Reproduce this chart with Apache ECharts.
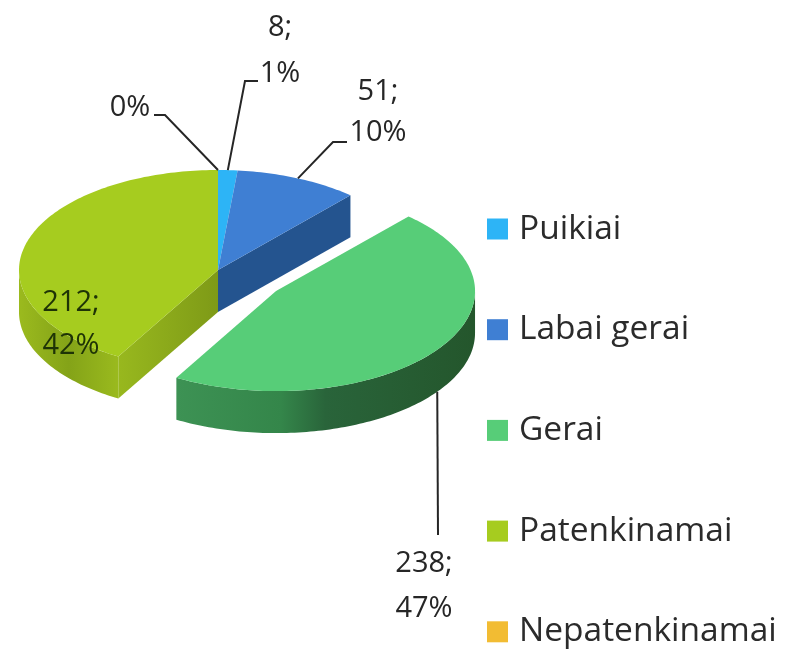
<!DOCTYPE html>
<html lang="en">
<head>
<meta charset="UTF-8">
<style>
    html, body { height: 100%; margin: 0; background: #fff; }
</style>
</head>
<body>
<div id="chart" style="width:794px;height:649px;"></div>
<script src="https://cdn.jsdelivr.net/npm/echarts@6/dist/echarts.min.js"></script>
<script>
    var categories = ['Puikiai', 'Labai gerai', 'Gerai', 'Patenkinamai', 'Nepatenkinamai'];
    var counts = [8, 51, 238, 212, 0];
    var percents = [1, 10, 47, 42, 0];
    var colors = ['#2DB4F6', '#3F7FD3', '#57CD78', '#A6CC1F', '#F2BC33'];

    // fake 3d pie: a flattened ellipse with a side wall
    var cx = 218, cy = 270, rx = 199, ry = 100, depth = 42;
    var explodeIndex = 2, explode = 0.36;
    var font = '29px "Open Sans"';
    var textColor = '#262626';

    // elbow of each leader line and where its label sits (null = label on the slice)
    var leaders = [
        { elbow: [[245, 81], [258, 81]], label: [280, 51], leading: 46 },
        { elbow: [[333, 142], [347, 142]], label: [378, 112], leading: 41 },
        { elbow: [[438, 535]], label: [424, 586], leading: 45, wall: true },
        { elbow: null, label: [71, 324], leading: 43 },
        { elbow: [[165, 115], [154, 115]], label: [130, 108], leading: 40 }
    ];

    var sideFills = [
        '#1F7FB0',
        '#24548F',
        { type: 'linear', x: 0, y: 0, x2: 1, y2: 0, colorStops: [
            { offset: 0, color: '#3D9254' }, { offset: 0.35, color: '#34864A' },
            { offset: 0.5, color: '#29643A' }, { offset: 1, color: '#24562C' }] },
        { type: 'linear', x: 0, y: 0, x2: 1, y2: 0, colorStops: [
            { offset: 0, color: '#9BBA1E' }, { offset: 0.5, color: '#84A318' }, { offset: 1, color: '#9ABA1E' }] },
        '#B08820'
    ];
    var cutFills = ['#1F7FB0', '#24548F', '#3D9254',
        { type: 'linear', x: 0, y: 0, x2: 1, y2: 0, colorStops: [
            { offset: 0, color: '#98B81E' }, { offset: 1, color: '#7E9A17' }] },
        '#B08820'];

    var total = counts.reduce(function (a, b) { return a + b; }, 0);

    function rad(frac) { return frac * 2 * Math.PI; }

    // point on the ellipse, angle measured clockwise from the top
    function pt(c, a) {
        return [c[0] + rx * Math.sin(a), c[1] - ry * Math.cos(a)];
    }

    function arc(c, a0, a1) {
        var pts = [];
        var n = Math.max(2, Math.ceil(Math.abs(a1 - a0) / 0.02));
        for (var i = 0; i <= n; i++) {
            pts.push(pt(c, a0 + (a1 - a0) * i / n));
        }
        return pts;
    }

    function down(p) { return [p[0], p[1] + depth]; }

    function slice(index) {
        var before = 0;
        for (var i = 0; i < index; i++) before += counts[i];
        var a0 = rad(before / total), a1 = rad((before + counts[index]) / total);
        var mid = (a0 + a1) / 2;
        var c = [cx, cy];
        if (index === explodeIndex) {
            c = [cx + rx * explode * Math.sin(mid), cy - ry * explode * Math.cos(mid)];
        }
        return { a0: a0, a1: a1, mid: mid, c: c };
    }

    function poly(points, fill) {
        return { type: 'polygon', shape: { points: points }, style: { fill: fill } };
    }

    function renderSlice(params, api) {
        var i = params.seriesIndex;
        var s = slice(i);
        var kids = [];

        if (counts[i] > 0) {
            // cut faces next to the gap
            var cBottom = down(s.c);
            if (i === 1) {
                var e1 = pt(s.c, s.a1);
                kids.push(poly([s.c, e1, down(e1), cBottom], cutFills[i]));
            }
            if (i === 3) {
                var e0 = pt(s.c, s.a0);
                kids.push(poly([s.c, e0, down(e0), cBottom], cutFills[i]));
            }
            // outer wall: the part of the rim facing the viewer
            var w0 = Math.max(s.a0, Math.PI / 2), w1 = Math.min(s.a1, Math.PI * 1.5);
            if (w1 > w0) {
                var rim = arc(s.c, w0, w1);
                kids.push(poly(rim.concat(rim.slice().reverse().map(down)), sideFills[i]));
            }
            // top face
            kids.push(poly([s.c].concat(arc(s.c, s.a0, s.a1)), colors[i]));
        }

        var leader = leaders[i];
        if (leader.elbow) {
            var anchor = pt(s.c, s.mid);
            if (leader.wall) anchor = down(anchor);
            kids.push({
                type: 'polyline',
                shape: { points: [anchor].concat(leader.elbow) },
                style: { fill: null, stroke: '#262626', lineWidth: 2 }
            });
        }
        var text = counts[i] > 0 ? counts[i] + ';\n' + percents[i] + '%' : percents[i] + '%';
        kids.push({
            type: 'text',
            x: leader.label[0],
            y: leader.label[1],
            style: {
                text: text,
                font: font,
                fill: i === 3 ? '#1E3306' : textColor,
                align: 'center',
                verticalAlign: 'middle',
                lineHeight: leader.leading
            }
        });
        return { type: 'group', children: kids };
    }

    var myChart = echarts.init(document.getElementById('chart'));
    myChart.setOption({
        animation: false,
        legend: {
            orient: 'vertical',
            left: 487,
            top: 212,
            height: 437,
            padding: 0,
            itemWidth: 21,
            itemHeight: 21,
            itemGap: 66.7,
            icon: 'rect',
            selectedMode: false,
            data: categories,
            textStyle: { fontFamily: 'Open Sans', fontSize: 33.5, color: '#2b2b2b', padding: [0, 0, 0, 6], lineHeight: 32 }
        },
        series: categories.map(function (name, i) {
            return {
                name: name,
                type: 'custom',
                coordinateSystem: 'none',
                silent: true,
                itemStyle: { color: colors[i] },
                renderItem: renderSlice,
                data: [counts[i]]
            };
        })
    });
</script>
</body>
</html>
